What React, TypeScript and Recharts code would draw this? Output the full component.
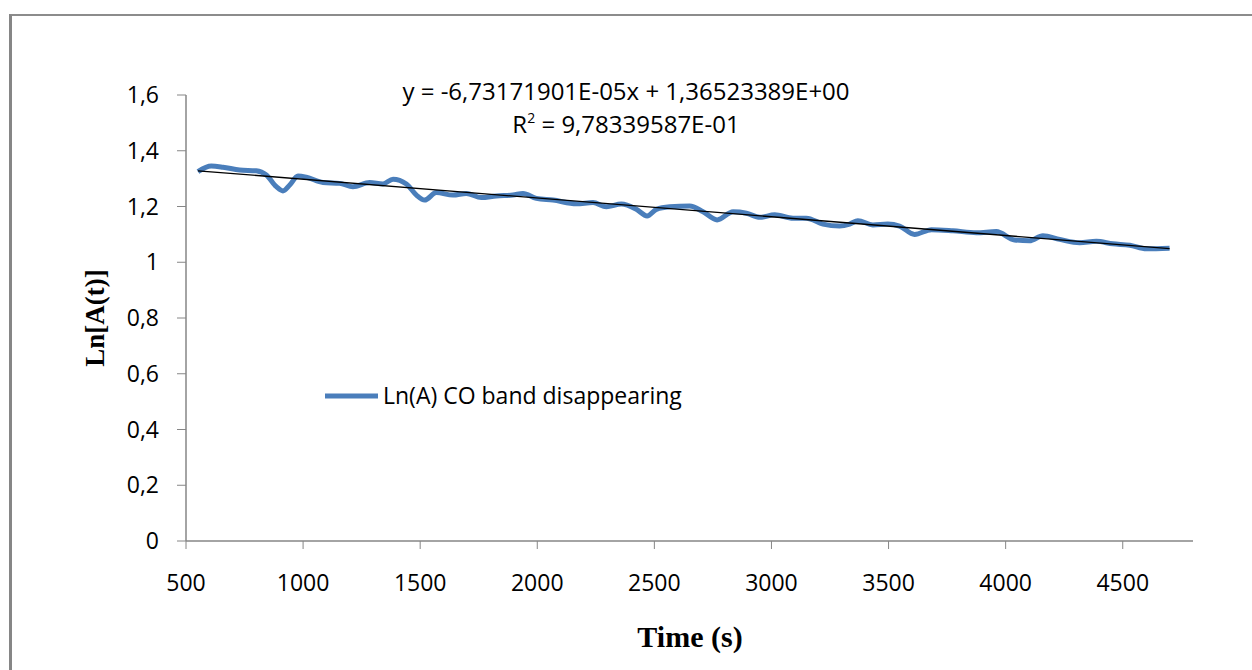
import React from "react";
import { LineChart, Line, XAxis, YAxis, Legend } from "recharts";

// Time (s)
const times = [551, 608, 658, 729, 800, 843, 886, 914, 943, 978, 1014, 1085, 1156, 1213, 1284, 1341, 1384, 1441, 1484, 1519, 1569, 1640, 1697, 1761, 1825, 1896, 1939, 1996, 2067, 2167, 2238, 2295, 2359, 2423, 2469, 2509, 2566, 2651, 2708, 2768, 2836, 2893, 2950, 3014, 3092, 3149, 3220, 3291, 3334, 3369, 3433, 3497, 3547, 3611, 3683, 3775, 3875, 3960, 4038, 4102, 4159, 4231, 4316, 4387, 4458, 4530, 4601, 4700];
// Ln(A) CO band disappearing
const lnA = [1.325, 1.345, 1.341, 1.331, 1.328, 1.313, 1.271, 1.256, 1.277, 1.309, 1.305, 1.286, 1.283, 1.271, 1.286, 1.281, 1.298, 1.281, 1.241, 1.223, 1.25, 1.241, 1.247, 1.232, 1.238, 1.241, 1.247, 1.229, 1.223, 1.21, 1.214, 1.199, 1.209, 1.19, 1.166, 1.19, 1.199, 1.202, 1.181, 1.152, 1.181, 1.176, 1.161, 1.17, 1.158, 1.158, 1.137, 1.13, 1.137, 1.149, 1.134, 1.137, 1.13, 1.1, 1.117, 1.113, 1.106, 1.11, 1.08, 1.077, 1.095, 1.082, 1.07, 1.075, 1.066, 1.061, 1.048, 1.05];

// Linear trendline (from displayed equation)
const slope = -6.73171901e-5;
const intercept = 1.36523389;
const trendX = [551, 4700];

const xTicks = [500, 1000, 1500, 2000, 2500, 3000, 3500, 4000, 4500];
const yTicks = [0, 0.2, 0.4, 0.6, 0.8, 1, 1.2, 1.4, 1.6];

const seriesName = "Ln(A) CO band disappearing";
const eqLine1 = "y = -6,73171901E-05x + 1,36523389E+00";
const eqLine2Value = " = 9,78339587E-01";

const data = times.map((t, i) => ({ t, v: lnA[i] }));
const trendData = trendX.map((t) => ({ t, y: slope * t + intercept }));

const BLUE = "#4a7ebb";
const AXIS = "#868686";
const FONT = "'Open Sans', 'Noto Sans', sans-serif";

const fmt = (v: number) => String(Math.round(v * 10) / 10).replace(".", ",");

const LegendContent = () => (
  <svg width={400} height={30} style={{ overflow: "visible" }}>
    <line x1={0} x2={53} y1={13} y2={13} stroke={BLUE} strokeWidth={5} />
    <text x={58} y={13} dy="0.35em" fontFamily={FONT} fontSize={23} fill="#000">
      {seriesName}
    </text>
  </svg>
);

export default function App() {
  return (
    <div style={{ position: "absolute", left: 0, top: 0, width: 1252, height: 670, background: "#fff" }}>
      <div
        style={{
          position: "absolute",
          left: 9,
          top: 14,
          width: 1243,
          height: 656,
          borderLeft: `3px solid ${AXIS}`,
          borderTop: `2px solid #8c8c8c`,
          boxSizing: "border-box",
        }}
      />
      <div style={{ position: "absolute", left: 0, top: 0 }}>
        <LineChart width={1252} height={670} margin={{ top: 95, right: 59, bottom: 89, left: 106 }}>
          <XAxis
            type="number"
            dataKey="t"
            domain={[500, 4800]}
            ticks={xTicks}
            allowDataOverflow
            height={40}
            stroke={AXIS}
            tickSize={8}
            tickMargin={26}
            tick={{ fill: "#000", fontSize: 23, fontFamily: FONT }}
            tickLine={{ stroke: AXIS }}
            axisLine={{ stroke: AXIS, strokeWidth: 1.5 }}
          />
          <YAxis
            type="number"
            domain={[0, 1.6]}
            ticks={yTicks}
            width={80}
            stroke={AXIS}
            tickSize={9}
            tickMargin={18}
            tickFormatter={fmt}
            tick={{ fill: "#000", fontSize: 23, fontFamily: FONT }}
            tickLine={{ stroke: AXIS }}
            axisLine={{ stroke: AXIS, strokeWidth: 1.5 }}
          />
          <Legend
            layout="horizontal"
            verticalAlign="middle"
            align="center"
            content={<LegendContent />}
            wrapperStyle={{ position: "absolute", left: 325, top: 383, width: 400, height: 30 }}
          />
          <Line
            data={data}
            dataKey="v"
            name={seriesName}
            type="monotone"
            stroke={BLUE}
            strokeWidth={5}
            dot={false}
            isAnimationActive={false}
          />
          <Line
            data={trendData}
            dataKey="y"
            name="trend"
            type="linear"
            stroke="#000"
            strokeWidth={1.3}
            dot={false}
            legendType="none"
            isAnimationActive={false}
          />
        </LineChart>
      </div>
      <div
        style={{
          position: "absolute",
          left: 626,
          top: 74,
          transform: "translateX(-50%)",
          fontFamily: FONT,
          fontSize: 24,
          lineHeight: "33px",
          textAlign: "center",
          whiteSpace: "nowrap",
          color: "#000",
        }}
      >
        <div>{eqLine1}</div>
        <div>
          R<sup style={{ fontSize: 14, verticalAlign: "10px", lineHeight: 0 }}>2</sup>
          {eqLine2Value}
        </div>
      </div>
      <div
        style={{
          position: "absolute",
          left: 95,
          top: 318,
          transform: "translate(-50%, -50%) rotate(-90deg)",
          fontFamily: "'Liberation Serif', 'Times New Roman', serif",
          fontWeight: "bold",
          fontSize: 27,
          whiteSpace: "nowrap",
          color: "#000",
        }}
      >
        Ln[A(t)]
      </div>
      <div
        style={{
          position: "absolute",
          left: 690,
          top: 637,
          transform: "translate(-50%, -50%)",
          fontFamily: "'Liberation Serif', 'Times New Roman', serif",
          fontWeight: "bold",
          fontSize: 30,
          whiteSpace: "nowrap",
          color: "#000",
        }}
      >
        Time (s)
      </div>
    </div>
  );
}
